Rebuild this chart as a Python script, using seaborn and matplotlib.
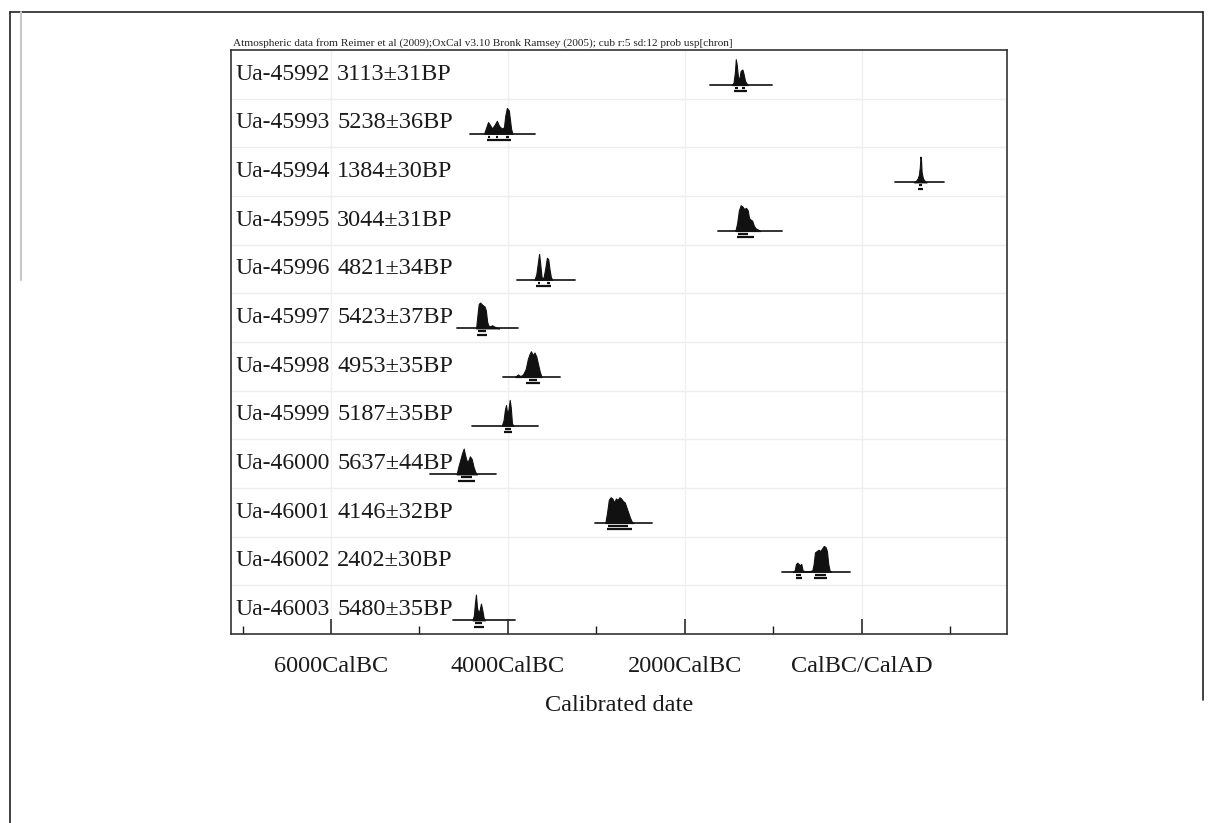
import matplotlib
matplotlib.use("Agg")
import matplotlib.pyplot as plt
from matplotlib.lines import Line2D
import seaborn as sns
import pandas as pd
import numpy as np

# ---------------- data ----------------
sample_ids = ["Ua-45992", "Ua-45993", "Ua-45994", "Ua-45995", "Ua-45996", "Ua-45997",
              "Ua-45998", "Ua-45999", "Ua-46000", "Ua-46001", "Ua-46002", "Ua-46003"]
bp_dates = ["3113±31BP", "5238±36BP", "1384±30BP", "3044±31BP", "4821±34BP", "5423±37BP",
            "4953±35BP", "5187±35BP", "5637±44BP", "4146±32BP", "2402±30BP", "5480±35BP"]

# calibrated probability distributions (calendar year, negative = BC; relative density)
dist_years = [
    [-1470, -1450, -1435, -1425, -1415, -1400, -1385, -1370, -1350, -1335, -1320, -1300, -1290],
    [-4270, -4240, -4225, -4205, -4180, -4150, -4125, -4100, -4070, -4045, -4030, -4012, -3990, -3965, -3950],
    [590, 610, 630, 645, 655, 662, 668, 675, 690, 710, 730],
    [-1430, -1410, -1390, -1370, -1350, -1330, -1310, -1290, -1275, -1260, -1240, -1220, -1200, -1170, -1150],
    [-3700, -3680, -3660, -3648, -3635, -3620, -3600, -3580, -3560, -3545, -3530, -3515, -3500],
    [-4360, -4345, -4330, -4315, -4300, -4285, -4265, -4250, -4235, -4220, -4200, -4180, -4160, -4130, -4100],
    [-3920, -3895, -3885, -3870, -3850, -3830, -3800, -3775, -3755, -3740, -3720, -3700, -3680, -3660, -3640, -3620],
    [-4070, -4050, -4035, -4022, -4010, -3995, -3980, -3968, -3955, -3940],
    [-4580, -4560, -4540, -4520, -4500, -4485, -4465, -4445, -4430, -4410, -4390, -4370, -4350],
    [-2900, -2880, -2860, -2840, -2820, -2800, -2780, -2760, -2740, -2720, -2700, -2680, -2660, -2640, -2620, -2600, -2580],
    [-780, -760, -745, -730, -715, -700, -685, -670, -640, -600, -560, -545, -530, -510, -490, -470, -450, -430, -410, -395, -380, -365, -350],
    [-4400, -4385, -4372, -4362, -4350, -4335, -4320, -4305, -4290, -4275, -4260],
]
dist_density = [
    [0, 0.1, 0.5, 1.0, 0.8, 0.3, 0.25, 0.55, 0.6, 0.4, 0.15, 0.05, 0],
    [0, 0.3, 0.45, 0.35, 0.2, 0.35, 0.5, 0.3, 0.2, 0.25, 0.7, 1.0, 0.9, 0.2, 0],
    [0, 0.05, 0.15, 0.3, 0.6, 1.0, 0.9, 0.4, 0.15, 0.05, 0],
    [0, 0.3, 0.8, 1.0, 0.95, 0.85, 0.9, 0.8, 0.5, 0.45, 0.4, 0.2, 0.1, 0.05, 0],
    [0, 0.2, 0.7, 1.0, 0.6, 0.1, 0.05, 0.4, 0.85, 0.8, 0.4, 0.1, 0],
    [0, 0.5, 0.95, 1.0, 0.95, 0.9, 0.85, 0.7, 0.25, 0.1, 0.08, 0.12, 0.08, 0.03, 0],
    [0, 0.08, 0.1, 0.05, 0.05, 0.1, 0.3, 0.7, 0.9, 1.0, 0.85, 0.95, 0.8, 0.5, 0.2, 0],
    [0, 0.2, 0.6, 0.8, 0.5, 0.6, 1.0, 0.7, 0.1, 0],
    [0, 0.3, 0.55, 0.8, 1.0, 0.75, 0.5, 0.55, 0.7, 0.6, 0.3, 0.1, 0],
    [0, 0.4, 0.9, 1.0, 0.95, 0.8, 0.95, 0.9, 1.0, 0.95, 0.85, 0.8, 0.6, 0.4, 0.2, 0.05, 0],
    [0, 0.05, 0.3, 0.35, 0.3, 0.25, 0.3, 0.05, 0.02, 0.02, 0.05, 0.3, 0.75, 0.8, 0.85, 0.8, 0.9, 1.0, 0.95, 0.8, 0.3, 0.05, 0],
    [0, 0.2, 0.7, 1.0, 0.5, 0.3, 0.4, 0.65, 0.4, 0.1, 0],
]
# horizontal range line under each distribution
line_start = [-1718, -4430, 373, -1627, -3899, -4577, -4057, -4407, -4880, -3017, -904, -4622]
line_end = [-1017, -3695, 927, -904, -3243, -3887, -3413, -3661, -4140, -2373, -136, -3921]
# highest-probability ranges (68.2% and 95.4%)
range68 = [
    [(-1430, -1405), (-1360, -1320)],
    [(-4225, -4200), (-4130, -4110), (-4025, -3990)],
    [(650, 680)],
    [(-1395, -1285)],
    [(-3660, -3635), (-3560, -3530)],
    [(-4340, -4250)],
    [(-3760, -3670)],
    [(-4035, -3970)],
    [(-4530, -4410)],
    [(-2870, -2640)],
    [(-740, -690), (-530, -400)],
    [(-4375, -4295)],
]
range95 = [
    [(-1445, -1300)],
    [(-4240, -3960)],
    [(630, 695)],
    [(-1410, -1220)],
    [(-3680, -3515)],
    [(-4345, -4235)],
    [(-3800, -3640)],
    [(-4050, -3955)],
    [(-4560, -4370)],
    [(-2880, -2600)],
    [(-750, -680), (-545, -390)],
    [(-4385, -4275)],
]
major_ticks = [-6000, -4000, -2000, 0]
major_labels = ["6000CalBC", "4000CalBC", "2000CalBC", "CalBC/CalAD"]
minor_ticks = [-7000, -5000, -3000, -1000, 1000]
header = ("Atmospheric data from Reimer et al (2009);OxCal v3.10 Bronk Ramsey (2005); "
          "cub r:5 sd:12 prob usp[chron]")

# ---------------- styling ----------------
sns.set_theme(style="white")
plt.rcParams["font.family"] = ["Liberation Serif", "DejaVu Serif"]

W, H = 1208, 823
fig = plt.figure(figsize=(W / 100, H / 100), dpi=100)
ax = fig.add_axes([231 / W, 1 - 634 / H, (1007 - 231) / W, (634 - 50) / H])

n = len(sample_ids)
ax.set_xlim(-7130, 1640)
ax.set_ylim(n, 0)

# faint grid
for i in range(1, n):
    ax.axhline(i, color="#ededed", lw=1.0, zorder=0)
for t in major_ticks:
    ax.axvline(t, color="#f0f0f0", lw=1.0, zorder=0)

BASE = 0.72
HEIGHT = 0.53
for i in range(n):
    yb = i + BASE
    xs = np.array(dist_years[i], dtype=float)
    ds = np.array(dist_density[i], dtype=float)
    # range line
    df_line = pd.DataFrame({"x": [line_start[i], line_end[i]], "y": [yb, yb]})
    sns.lineplot(data=df_line, x="x", y="y", ax=ax, color="#222222", lw=1.3,
                 estimator=None, sort=False, zorder=2)
    # distribution
    ax.fill_between(xs, yb, yb - HEIGHT * ds, color="#111111", lw=0.8,
                    edgecolor="#111111", zorder=3)
    # probability ranges below
    for a, b in range68[i]:
        ax.plot([a, b], [yb + 0.06, yb + 0.06], color="#111111", lw=1.6,
                solid_capstyle="butt", zorder=3)
    for a, b in range95[i]:
        ax.plot([a, b], [yb + 0.13, yb + 0.13], color="#111111", lw=1.6,
                solid_capstyle="butt", zorder=3)
    # labels
    ax.text(0.006, i + 0.5, sample_ids[i], transform=ax.get_yaxis_transform(which="grid"),
            ha="left", va="center", fontsize=17, color="#1a1a1a", zorder=4)
    ax.text(0.137, i + 0.5, bp_dates[i], transform=ax.get_yaxis_transform(which="grid"),
            ha="left", va="center", fontsize=17.5, color="#1a1a1a", zorder=4)

ax.set_xticks(major_ticks)
ax.set_xticklabels(major_labels)
ax.set_xticks(minor_ticks, minor=True)
ax.tick_params(axis="x", which="major", direction="in", length=11, width=1.1,
               pad=16, labelsize=17.5, colors="#1a1a1a", bottom=True, top=False)
ax.tick_params(axis="x", which="minor", direction="in", length=6, width=1.0,
               bottom=True, top=False, color="#1a1a1a")
ax.set_yticks([])
ax.set_ylabel("")
ax.set_xlabel("Calibrated date", fontsize=17.5, color="#1a1a1a", labelpad=13)
for s in ax.spines.values():
    s.set_visible(True)
    s.set_color("#333333")
    s.set_linewidth(1.2)

fig.text(233 / W, 1 - 43 / H, header, fontsize=8.1, ha="left", va="center", color="#222222")

# page border of the scanned sheet
fig.add_artist(Line2D([10 / W, 10 / W], [0, 1 - 12 / H], color="#222222", lw=1.2))
fig.add_artist(Line2D([10 / W, 1203 / W], [1 - 12 / H, 1 - 12 / H], color="#222222", lw=1.2))
fig.add_artist(Line2D([1203 / W, 1203 / W], [1 - 700 / H, 1 - 12 / H], color="#222222", lw=1.2))
fig.add_artist(Line2D([21 / W, 21 / W], [1 - 280 / H, 1 - 12 / H], color="#c8c8c8", lw=1.5))

fig.savefig("out.png", dpi=100)
